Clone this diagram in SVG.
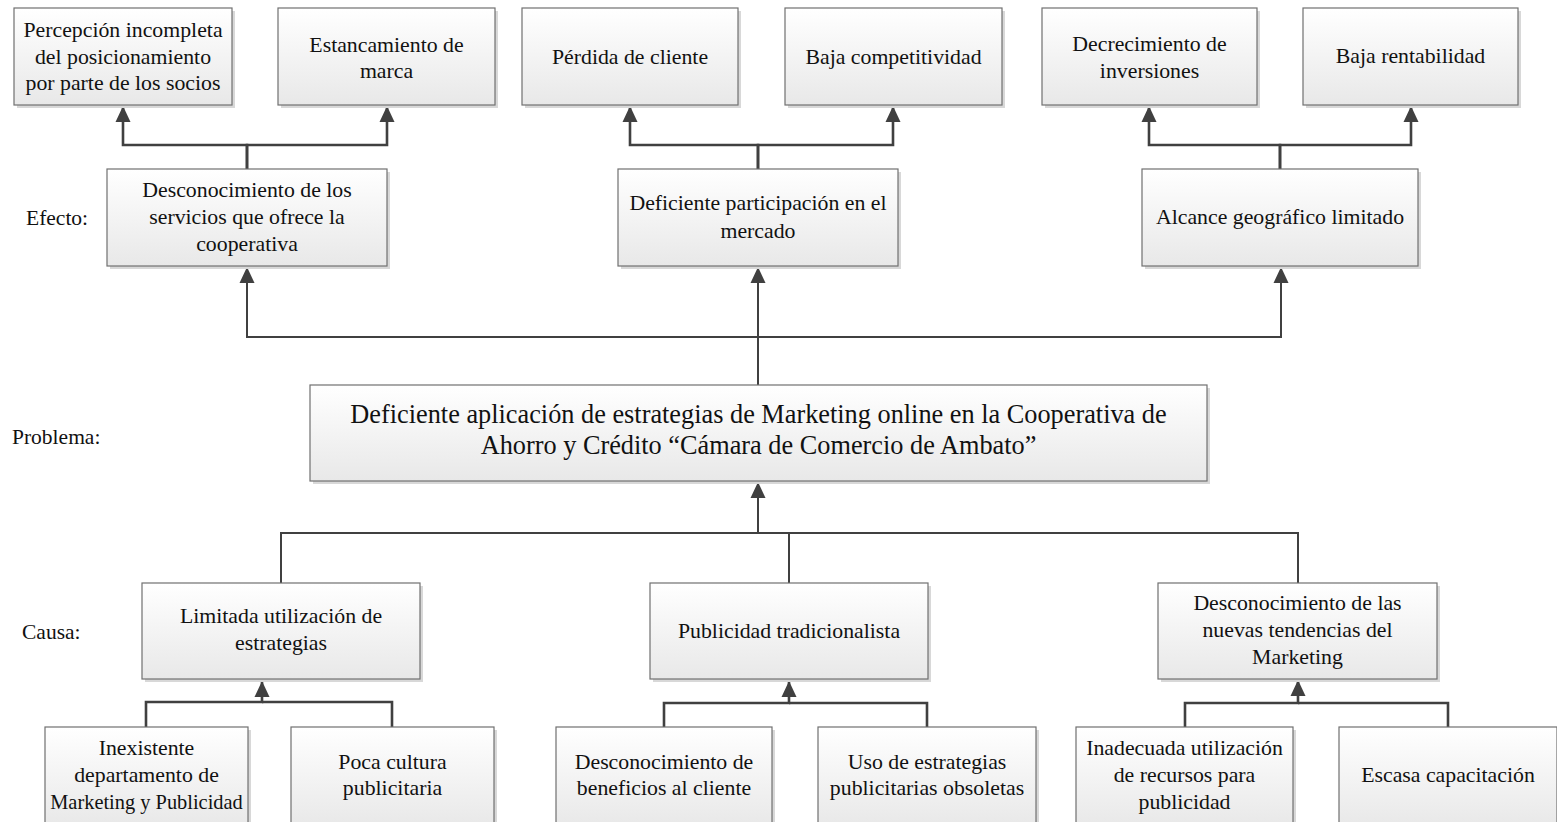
<svg xmlns="http://www.w3.org/2000/svg" width="1557" height="822" viewBox="0 0 1557 822">
<defs>
<linearGradient id="g" x1="0" y1="0" x2="0" y2="1">
<stop offset="0" stop-color="#ffffff"/>
<stop offset="1" stop-color="#e8e8e8"/>
</linearGradient>
<marker id="up" viewBox="-8 -16 16 16" refX="0" refY="-16" markerWidth="16" markerHeight="16" markerUnits="userSpaceOnUse" orient="0">
<path d="M-7.5,0 L0,-16 L7.5,0 Z" fill="#404040"/>
</marker>
</defs>
<style>
.box{fill:url(#g);stroke:#707070;stroke-width:1.2}
.sh{fill:#d8d8d8}
text{font-family:'Liberation Serif','Times New Roman','DejaVu Serif',serif;fill:#111}
.t{font-size:21.8px;text-anchor:middle}
.tp{font-size:26.3px;text-anchor:middle}
.lbl{font-size:21.5px}
.c{fill:none;stroke:#404040;stroke-width:2.6}
.c2{fill:none;stroke:#404040;stroke-width:2}
</style>

<g id="connectors">
<path class="c" d="M247,169 V145 H123 V106" marker-end="url(#up)"/>
<path class="c" d="M247,169 V145 H387 V106" marker-end="url(#up)"/>
<path class="c" d="M758,169 V145 H630 V106" marker-end="url(#up)"/>
<path class="c" d="M758,169 V145 H893 V106" marker-end="url(#up)"/>
<path class="c" d="M1280,169 V145 H1149 V106" marker-end="url(#up)"/>
<path class="c" d="M1280,169 V145 H1411 V106" marker-end="url(#up)"/>
<path class="c2" d="M758,385 V267" marker-end="url(#up)"/>
<path class="c2" d="M758,337 H247 V267" marker-end="url(#up)"/>
<path class="c2" d="M758,337 H1281 V267" marker-end="url(#up)"/>
<path class="c2" d="M789,583 V533 H758 V482" marker-end="url(#up)"/>
<path class="c2" d="M281,583 V533 H758"/>
<path class="c2" d="M1298,583 V533 H789"/>
<path class="c" d="M146,727 V702 H262 V681" marker-end="url(#up)"/>
<path class="c" d="M392,727 V702 H262"/>
<path class="c" d="M664,727 V703 H789 V681" marker-end="url(#up)"/>
<path class="c" d="M927,727 V703 H789"/>
<path class="c" d="M1185,727 V703 H1298 V680" marker-end="url(#up)"/>
<path class="c" d="M1448,727 V703 H1298"/>
</g>

<g id="labels">
<text class="lbl" x="26" y="225">Efecto:</text>
<text class="lbl" x="12" y="444">Problema:</text>
<text class="lbl" x="22" y="639">Causa:</text>
</g>

<g id="n1"><rect class="sh" x="17" y="11" width="218" height="97"/><rect class="box" x="14" y="8" width="218" height="97"/>
<text class="t" x="123" y="37">Percepción incompleta</text><text class="t" x="123" y="64">del posicionamiento</text><text class="t" x="123" y="90">por parte de los socios</text></g>
<g id="n2"><rect class="sh" x="281" y="11" width="217" height="97"/><rect class="box" x="278" y="8" width="217" height="97"/>
<text class="t" x="386.5" y="52">Estancamiento de</text><text class="t" x="386.5" y="78">marca</text></g>
<g id="n3"><rect class="sh" x="525" y="11" width="216" height="97"/><rect class="box" x="522" y="8" width="216" height="97"/>
<text class="t" x="630" y="64">Pérdida de cliente</text></g>
<g id="n4"><rect class="sh" x="788" y="11" width="217" height="97"/><rect class="box" x="785" y="8" width="217" height="97"/>
<text class="t" x="893.5" y="64">Baja competitividad</text></g>
<g id="n5"><rect class="sh" x="1045" y="11" width="215" height="97"/><rect class="box" x="1042" y="8" width="215" height="97"/>
<text class="t" x="1149.5" y="51">Decrecimiento de</text><text class="t" x="1149.5" y="78">inversiones</text></g>
<g id="n6"><rect class="sh" x="1306" y="11" width="215" height="97"/><rect class="box" x="1303" y="8" width="215" height="97"/>
<text class="t" x="1410.5" y="63">Baja rentabilidad</text></g>

<g id="e1"><rect class="sh" x="110" y="172" width="280" height="97"/><rect class="box" x="107" y="169" width="280" height="97"/>
<text class="t" x="247" y="197">Desconocimiento de los</text><text class="t" x="247" y="224">servicios que ofrece la</text><text class="t" x="247" y="251">cooperativa</text></g>
<g id="e2"><rect class="sh" x="621" y="172" width="280" height="97"/><rect class="box" x="618" y="169" width="280" height="97"/>
<text class="t" x="758" y="210">Deficiente participación en el</text><text class="t" x="758" y="238">mercado</text></g>
<g id="e3"><rect class="sh" x="1145" y="172" width="276" height="97"/><rect class="box" x="1142" y="169" width="276" height="97"/>
<text class="t" x="1280" y="224">Alcance geográfico limitado</text></g>

<g id="p"><rect class="sh" x="313" y="388" width="897" height="96"/><rect class="box" x="310" y="385" width="897" height="96"/>
<text class="tp" x="758.5" y="423">Deficiente aplicación de estrategias de Marketing online en la Cooperativa de</text>
<text class="tp" x="758.5" y="454">Ahorro y Crédito “Cámara de Comercio de Ambato”</text></g>

<g id="c1"><rect class="sh" x="145" y="586" width="278" height="96"/><rect class="box" x="142" y="583" width="278" height="96"/>
<text class="t" x="281" y="623">Limitada utilización de</text><text class="t" x="281" y="650">estrategias</text></g>
<g id="c2"><rect class="sh" x="653" y="586" width="278" height="96"/><rect class="box" x="650" y="583" width="278" height="96"/>
<text class="t" x="789" y="638">Publicidad tradicionalista</text></g>
<g id="c3"><rect class="sh" x="1161" y="586" width="279" height="96"/><rect class="box" x="1158" y="583" width="279" height="96"/>
<text class="t" x="1297.5" y="610">Desconocimiento de las</text><text class="t" x="1297.5" y="637">nuevas tendencias del</text><text class="t" x="1297.5" y="664">Marketing</text></g>

<g id="b1"><rect class="sh" x="48" y="730" width="203" height="100"/><rect class="box" x="45" y="727" width="203" height="100"/>
<text class="t" x="146.5" y="755">Inexistente</text><text class="t" x="146.5" y="782">departamento de</text><text class="t" x="146.5" y="809" style="font-size:20.4px">Marketing y Publicidad</text></g>
<g id="b2"><rect class="sh" x="294" y="730" width="203" height="100"/><rect class="box" x="291" y="727" width="203" height="100"/>
<text class="t" x="392.5" y="769">Poca cultura</text><text class="t" x="392.5" y="795">publicitaria</text></g>
<g id="b3"><rect class="sh" x="559" y="730" width="216" height="100"/><rect class="box" x="556" y="727" width="216" height="100"/>
<text class="t" x="664" y="769">Desconocimiento de</text><text class="t" x="664" y="795">beneficios al cliente</text></g>
<g id="b4"><rect class="sh" x="821" y="730" width="218" height="100"/><rect class="box" x="818" y="727" width="218" height="100"/>
<text class="t" x="927" y="769">Uso de estrategias</text><text class="t" x="927" y="795">publicitarias obsoletas</text></g>
<g id="b5"><rect class="sh" x="1079" y="730" width="217" height="100"/><rect class="box" x="1076" y="727" width="217" height="100"/>
<text class="t" x="1184.5" y="755">Inadecuada utilización</text><text class="t" x="1184.5" y="782">de recursos para</text><text class="t" x="1184.5" y="809">publicidad</text></g>
<g id="b6"><rect class="sh" x="1342" y="730" width="218" height="100"/><rect class="box" x="1339" y="727" width="218" height="100"/>
<text class="t" x="1448" y="782">Escasa capacitación</text></g>
</svg>
